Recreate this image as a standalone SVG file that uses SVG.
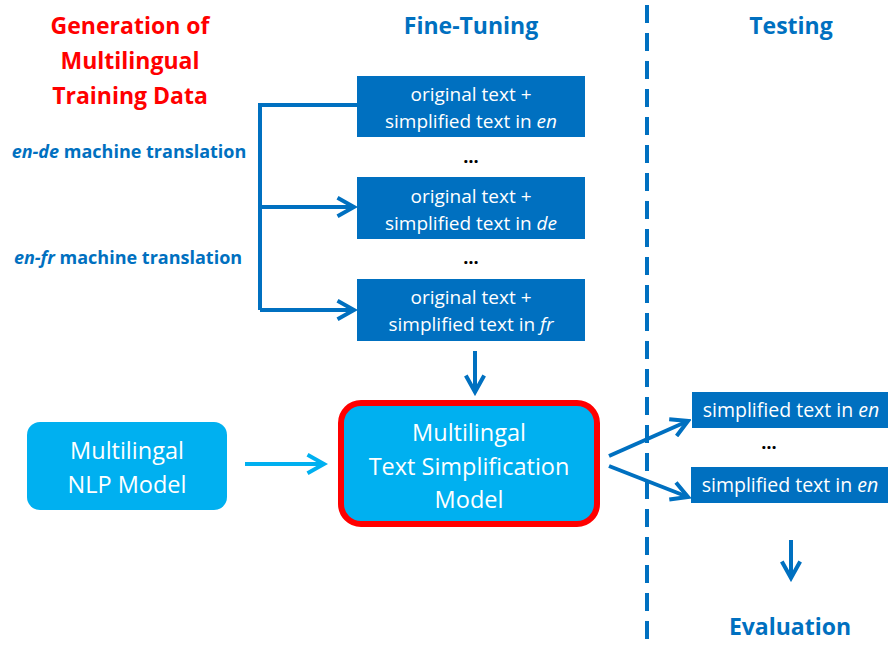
<svg xmlns="http://www.w3.org/2000/svg" width="890" height="646" viewBox="0 0 890 646">
<style>
.h{font-family:"Open Sans","Noto Sans",sans-serif;font-weight:bold;font-size:23px;text-anchor:middle}
.lab{font-family:"Open Sans","Noto Sans",sans-serif;font-weight:bold;font-size:18px;fill:#0070c0;text-anchor:middle}
.bt{font-family:"Open Sans","Noto Sans",sans-serif;font-size:19px;fill:#ffffff;text-anchor:middle}
.tt{font-family:"Open Sans","Noto Sans",sans-serif;font-size:19.5px;fill:#ffffff;text-anchor:middle}
.mt{font-family:"Open Sans","Noto Sans",sans-serif;font-size:23.5px;fill:#ffffff;text-anchor:middle}
.dots{font-family:"Open Sans","Noto Sans",sans-serif;font-weight:bold;font-size:18px;fill:#000;text-anchor:middle}
.dk{fill:#0070c0}
.ln{fill:none;stroke:#0070c0;stroke-width:4}
</style>
<defs>
<marker id="ah" viewBox="0 0 12 12" refX="10" refY="6" markerWidth="5.5" markerHeight="5.5" markerUnits="strokeWidth" orient="auto">
<path d="M1,1 L10,6 L1,11" fill="none" stroke="#0070c0" stroke-width="2.2"/>
</marker>
<marker id="ahl" viewBox="0 0 12 12" refX="10" refY="6" markerWidth="5.5" markerHeight="5.5" markerUnits="strokeWidth" orient="auto">
<path d="M1,1 L10,6 L1,11" fill="none" stroke="#00b0f0" stroke-width="2.2"/>
</marker>
</defs>
<rect width="890" height="646" fill="#ffffff"/>

<g id="headings">
<text class="h" x="130" y="34" fill="#ff0000">Generation of</text>
<text class="h" x="130" y="69" fill="#ff0000">Multilingual</text>
<text class="h" x="130" y="104" fill="#ff0000">Training Data</text>
<text class="h" x="471" y="34" fill="#0070c0">Fine-Tuning</text>
<text class="h" x="791" y="34" fill="#0070c0">Testing</text>
<text class="h" x="790" y="635" fill="#0070c0">Evaluation</text>
</g>

<g id="labels">
<text class="lab" x="129" y="158"><tspan font-style="italic">en-de</tspan> machine translation</text>
<text class="lab" x="128" y="264"><tspan font-style="italic">en-fr</tspan> machine translation</text>
</g>

<g id="box-en">
<rect class="dk" x="357" y="76" width="228" height="61"/>
<text class="bt" x="471" y="101">original text +</text>
<text class="bt" x="471" y="128">simplified text in <tspan font-style="italic">en</tspan></text>
</g>
<g id="box-de">
<rect class="dk" x="357" y="177" width="228" height="62"/>
<text class="bt" x="471" y="203">original text +</text>
<text class="bt" x="471" y="230">simplified text in <tspan font-style="italic">de</tspan></text>
</g>
<g id="box-fr">
<rect class="dk" x="357" y="279" width="228" height="62"/>
<text class="bt" x="471" y="304">original text +</text>
<text class="bt" x="471" y="331">simplified text in <tspan font-style="italic">fr</tspan></text>
</g>
<text class="dots" x="471" y="163">…</text>
<text class="dots" x="471" y="264">…</text>

<g id="nlp-model">
<rect x="27" y="422" width="200" height="88" rx="13" fill="#00b0f0"/>
<text class="mt" x="127" y="459">Multilingal</text>
<text class="mt" x="127" y="493">NLP Model</text>
</g>

<g id="ts-model">
<rect x="341" y="403" width="256" height="121" rx="20" fill="#00b0f0" stroke="#ff0000" stroke-width="6"/>
<text class="mt" x="469" y="441">Multilingal</text>
<text class="mt" x="469" y="475">Text Simplification</text>
<text class="mt" x="469" y="508">Model</text>
</g>

<g id="test-1">
<rect class="dk" x="692" y="392" width="196" height="36"/>
<text class="tt" x="791" y="417">simplified text in <tspan font-style="italic">en</tspan></text>
</g>
<g id="test-2">
<rect class="dk" x="691" y="467" width="197" height="36"/>
<text class="tt" x="790" y="492">simplified text in <tspan font-style="italic">en</tspan></text>
</g>
<text class="dots" x="769" y="449">…</text>

<g id="connectors">
<path class="ln" d="M357,105 H260 V310"/>
<path class="ln" d="M260,207 H354" marker-end="url(#ah)"/>
<path class="ln" d="M260,310 H354" marker-end="url(#ah)"/>
<path class="ln" d="M475,351 V392" marker-end="url(#ah)"/>
<path fill="none" stroke="#00b0f0" stroke-width="4" d="M245,464 H324" marker-end="url(#ahl)"/>
<path class="ln" d="M609,456 L688,421" marker-end="url(#ah)"/>
<path class="ln" d="M609,466 L688,497" marker-end="url(#ah)"/>
<path class="ln" d="M791,540 V578" marker-end="url(#ah)"/>
<path fill="none" stroke="#0070c0" stroke-width="4" stroke-dasharray="18,10" d="M647,5 V646"/>
</g>
</svg>
